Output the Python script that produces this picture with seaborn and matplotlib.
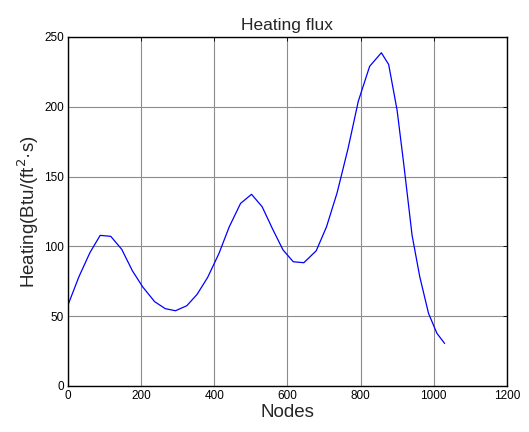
import matplotlib
matplotlib.use("Agg")
import matplotlib.pyplot as plt
import seaborn as sns
import pandas as pd

nodes = [0, 30, 60, 88, 117, 147, 176, 204, 237, 266, 294, 325, 353, 382, 413, 441,
         472, 502, 531, 560, 588, 616, 645, 679, 707, 736, 766, 794, 825, 857, 877,
         900, 918, 941, 962, 986, 1009, 1030]
heating = [58, 78.3, 95.5, 107.9, 107.2, 97.9, 82.6, 71.1, 60.4, 55.4, 53.9, 57.5, 65.6,
           77.8, 95, 114, 130.8, 137.3, 128.4, 112.2, 97.5, 89, 88.3, 96.9, 114, 138.4,
           170.2, 204, 229, 238.7, 230.3, 197.6, 159.5, 108, 78.3, 52, 37.7, 30.5]
xticks = [0, 200, 400, 600, 800, 1000, 1200]
yticks = [0, 50, 100, 150, 200, 250]

df = pd.DataFrame({"Nodes": nodes, "Heating": heating})

sns.set_style("white")
plt.rcParams["font.family"] = ["Liberation Sans", "DejaVu Sans"]

fig = plt.figure(figsize=(5.29, 4.32), dpi=100)
ax = fig.add_axes([0.1285, 0.1065, 0.8295, 0.8079])
sns.lineplot(data=df, x="Nodes", y="Heating", ax=ax, color="#0000ff", linewidth=0.9)

ax.set_xlim(0, 1200)
ax.set_ylim(0, 250)
ax.set_xticks(xticks)
ax.set_yticks(yticks)
ax.tick_params(direction="in", top=True, right=True, length=3, width=0.6,
               labelsize=8.5, colors="black", pad=3)
ax.grid(True, color="#8c8c8c", linewidth=0.8, linestyle="-")
for s in ax.spines.values():
    s.set_color("black")
    s.set_linewidth(1.0)
ax.set_title("Heating flux", fontsize=12.5, pad=5)
ax.set_xlabel("Nodes", fontsize=13.5, labelpad=1)
ax.set_ylabel("Heating(Btu/(ft$^2$·s)", fontsize=13.5, labelpad=2)

fig.savefig("out.png", dpi=100)
